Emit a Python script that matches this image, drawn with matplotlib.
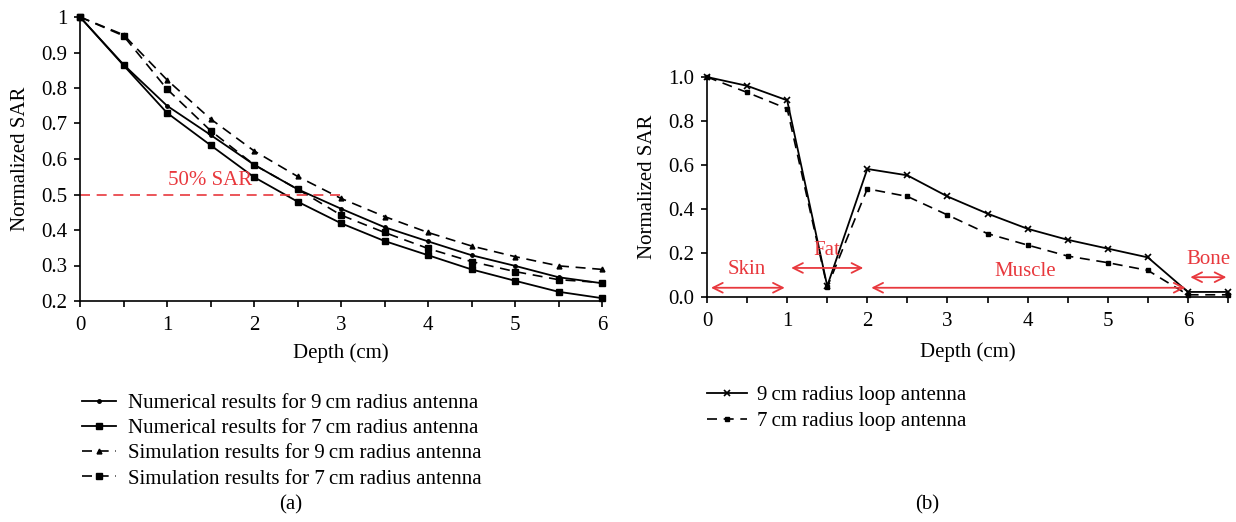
import matplotlib
matplotlib.use("Agg")
import matplotlib.pyplot as plt
import numpy as np

plt.rcParams['font.family'] = ['Liberation Serif', 'DejaVu Serif']

# ---- Panel (a): SAR versus depth for two antenna radii ----
depth_a = [0, 0.5, 1, 1.5, 2, 2.5, 3, 3.5, 4, 4.5, 5, 5.5, 6]
num_9cm = [1.0, 0.866, 0.75, 0.668, 0.584, 0.515, 0.46, 0.408, 0.368, 0.329, 0.299, 0.267, 0.25]
num_7cm = [1.0, 0.864, 0.73, 0.639, 0.549, 0.48, 0.419, 0.369, 0.329, 0.289, 0.257, 0.226, 0.208]
sim_9cm = [1.0, 0.95, 0.823, 0.713, 0.623, 0.551, 0.489, 0.438, 0.393, 0.355, 0.325, 0.299, 0.289]
sim_7cm = [1.0, 0.947, 0.797, 0.68, 0.584, 0.515, 0.442, 0.393, 0.348, 0.311, 0.283, 0.26, 0.252]
labels_a = ["Numerical results for 9\u2009cm radius antenna",
            "Numerical results for 7\u2009cm radius antenna",
            "Simulation results for 9\u2009cm radius antenna",
            "Simulation results for 7\u2009cm radius antenna"]
half_sar = 0.5

# ---- Panel (b): SAR across tissue layers ----
depth_b = [0, 0.5, 1, 1.5, 2, 2.5, 3, 3.5, 4, 4.5, 5, 5.5, 6, 6.5]
loop_9cm = [1.0, 0.96, 0.894, 0.05, 0.582, 0.553, 0.457, 0.379, 0.31, 0.26, 0.22, 0.18, 0.023, 0.023]
loop_7cm = [1.0, 0.93, 0.856, 0.045, 0.492, 0.457, 0.373, 0.288, 0.236, 0.186, 0.156, 0.121, 0.01, 0.01]
labels_b = ["9\u2009cm radius loop antenna", "7\u2009cm radius loop antenna"]
tissues = ["Skin", "Fat", "Muscle", "Bone"]

RED = '#e8383d'
FS = 15

W, H = 1236, 522
fig = plt.figure(figsize=(W / 100, H / 100), dpi=100)


def px_axes(x0, x1, y_top, y_bot):
    return fig.add_axes([x0 / W, 1 - y_bot / H, (x1 - x0) / W, (y_bot - y_top) / H])


def style_axes(ax):
    for s in ('top', 'right'):
        ax.spines[s].set_visible(False)
    for s in ('left', 'bottom'):
        ax.spines[s].set_linewidth(1.2)
    ax.tick_params(which='both', direction='out', length=4, width=1.2, labelsize=FS)
    ax.tick_params(axis='x', pad=7)
    ax.tick_params(axis='y', pad=5)


# ---------------- (a) ----------------
ax1 = px_axes(80, 602, 17, 301)
l1, = ax1.plot(depth_a, num_9cm, '-', color='k', lw=1.3, marker='o', ms=2.5, clip_on=False)
l2, = ax1.plot(depth_a, num_7cm, '-', color='k', lw=1.3, marker='s', ms=5, clip_on=False)
l3, = ax1.plot(depth_a, sim_9cm, '--', color='k', lw=1.2, dashes=(6, 4), marker='^', ms=3.5, clip_on=False)
l4, = ax1.plot(depth_a, sim_7cm, '--', color='k', lw=1.2, dashes=(6, 4), marker='s', ms=5, clip_on=False)
ax1.plot([0, 3], [half_sar, half_sar], color=RED, lw=1.2, dashes=(6, 4))
ax1.text(1.5, 0.512, "50% SAR", color=RED, fontsize=FS, ha='center', va='bottom')
ax1.set_xlim(0, 6)
ax1.set_ylim(0.2, 1.0)
ax1.set_xticks(np.arange(0, 7, 1))
ax1.set_xticks(np.arange(0.5, 6, 1), minor=True)
ax1.set_yticks(np.arange(0.2, 1.01, 0.1))
ax1.set_yticklabels(['0.2', '0.3', '0.4', '0.5', '0.6', '0.7', '0.8', '0.9', '1'])
style_axes(ax1)
ax1.set_xlabel("Depth (cm)", fontsize=FS, labelpad=6)
ax1.set_ylabel("Normalized SAR", fontsize=FS, labelpad=8)

fig.legend([l1, l2, l3, l4], labels_a, loc='upper left',
           bbox_to_anchor=(74 / W, 1 - 385 / H), frameon=False, fontsize=FS,
           handlelength=1.6, handletextpad=0.6, labelspacing=0.27, borderaxespad=0)
fig.text(291 / W, 1 - 505 / H, "(a)", fontsize=FS, ha='center', va='center')

# ---------------- (b) ----------------
ax2 = px_axes(707, 1228, 77, 297)
m1, = ax2.plot(depth_b, loop_9cm, '-', color='k', lw=1.3, marker='x', ms=5, mew=1.2, clip_on=False)
m2, = ax2.plot(depth_b, loop_7cm, '--', color='k', lw=1.2, dashes=(6, 4), marker='s', ms=3, clip_on=False)
ax2.set_xlim(0, 6.5)
ax2.set_ylim(0, 1.0)
ax2.set_xticks(np.arange(0, 7, 1))
ax2.set_xticks(np.arange(0.5, 6.6, 1), minor=True)
ax2.set_yticks(np.arange(0, 1.01, 0.2))
ax2.set_yticklabels(['0.0', '0.2', '0.4', '0.6', '0.8', '1.0'])
style_axes(ax2)
ax2.set_xlabel("Depth (cm)", fontsize=FS, labelpad=8)
ax2.set_ylabel("Normalized SAR", fontsize=FS, labelpad=8)

arrow_kw = dict(arrowstyle='<->,head_length=0.7,head_width=0.35', color=RED, lw=1.3,
                shrinkA=0, shrinkB=0)
spans = [(0.05, 0.97, 0.042), (1.05, 1.95, 0.132), (2.05, 5.97, 0.042), (6.03, 6.48, 0.09)]
text_pos = [(0.5, 0.125), (1.5, 0.21), (3.97, 0.117), (6.25, 0.172)]
for (xa, xb, yy), (tx, ty), name in zip(spans, text_pos, tissues):
    ax2.annotate('', xy=(xb, yy), xytext=(xa, yy), arrowprops=arrow_kw, annotation_clip=False)
    ax2.text(tx, ty, name, color=RED, fontsize=FS, ha='center', va='center', clip_on=False)

fig.legend([m1, m2], labels_b, loc='upper left',
           bbox_to_anchor=(699 / W, 1 - 377 / H), frameon=False, fontsize=FS,
           handlelength=1.9, handletextpad=0.5, labelspacing=0.32, borderaxespad=0)
fig.text(927 / W, 1 - 505 / H, "(b)", fontsize=FS, ha='center', va='center')

fig.savefig("out.png", dpi=100)
